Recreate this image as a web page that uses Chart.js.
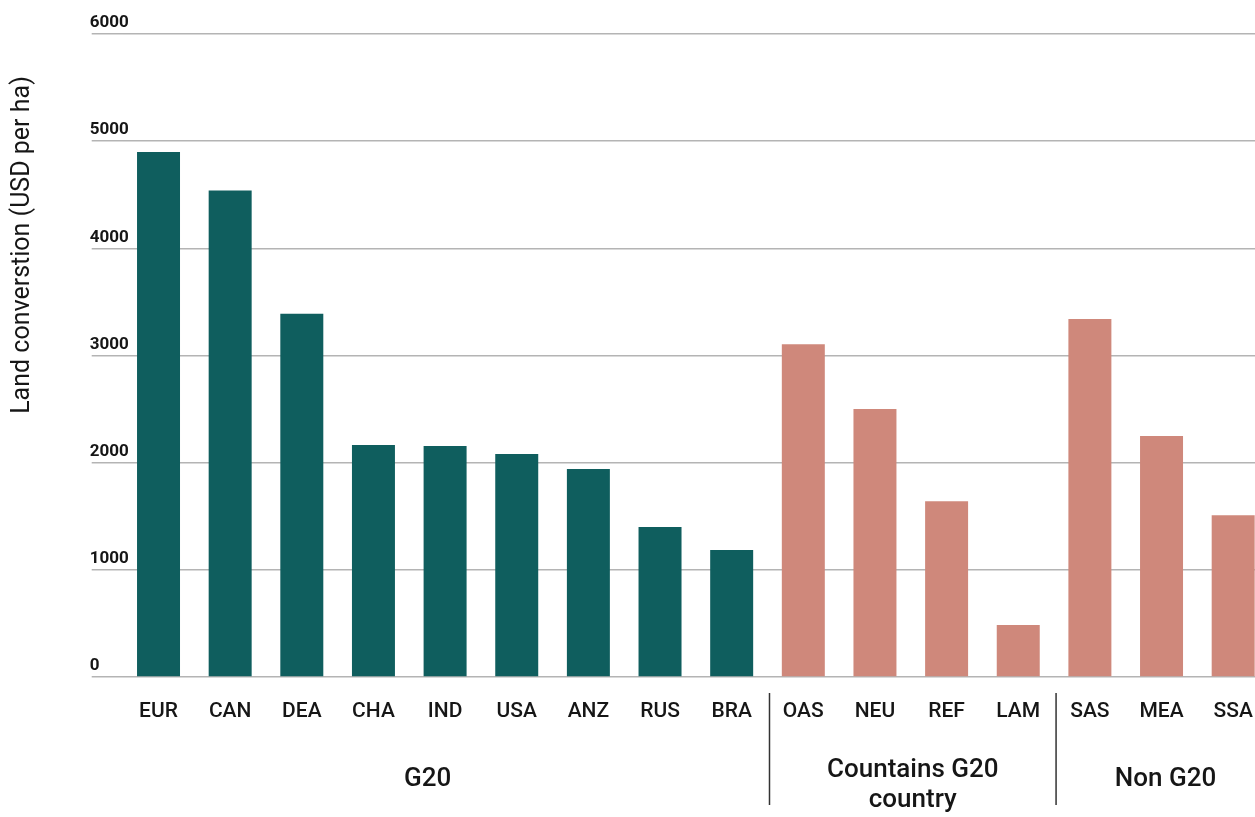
<!DOCTYPE html>
<html>
<head>
<meta charset="utf-8">
<script src="https://cdn.jsdelivr.net/npm/chart.js@4/dist/chart.umd.min.js"></script>
<style>
  html, body { margin: 0; padding: 0; background: #ffffff; overflow: hidden; }
  #wrap { width: 1255px; height: 817px; overflow: hidden; position: relative; }
  canvas { display: block; }
</style>
</head>
<body>
<div id="wrap"><canvas id="chart" width="1270" height="817"></canvas></div>
<script>
// Regions along the x axis
const regions = ['EUR', 'CAN', 'DEA', 'CHA', 'IND', 'USA', 'ANZ', 'RUS', 'BRA',
                 'OAS', 'NEU', 'REF', 'LAM', 'SAS', 'MEA', 'SSA'];

// Land conversion cost, USD per ha
const landConversion = [4900, 4540, 3390, 2165, 2155, 2080, 1940, 1400, 1185,
                        3105, 2500, 1640, 485, 3340, 2250, 1510];

// Region groups (index ranges into regions)
const groupNames = [['G20'], ['Countains G20', 'country'], ['Non G20']];
const groupStart = [0, 9, 13];
const groupEnd = [8, 12, 15];

// Y axis ticks
const yTicks = [0, 1000, 2000, 3000, 4000, 5000, 6000];

const yTitle = 'Land converstion (USD per ha)';

const TEAL = '#0f5e5e';
const SALMON = '#cf887b';
const INK = '#161616';
const GRID = '#b4b4b4';

const barColors = regions.map((_, i) => (i <= groupEnd[0] ? TEAL : SALMON));

const decorations = {
  id: 'decorations',
  afterDraw(chart) {
    const ctx = chart.ctx;
    const x = chart.scales.x;

    // rotated y-axis title
    ctx.save();
    ctx.translate(23, 245);
    ctx.rotate(-Math.PI / 2);
    ctx.font = '400 25px Roboto';
    ctx.fillStyle = INK;
    ctx.textAlign = 'center';
    ctx.textBaseline = 'middle';
    ctx.fillText(yTitle, 0, 0);
    ctx.restore();

    // boundaries between groups
    const bounds = [];
    bounds.push(chart.chartArea.left - 31);
    for (let g = 1; g < groupStart.length; g++) {
      const a = x.getPixelForTick(groupEnd[g - 1]);
      const b = x.getPixelForTick(groupStart[g]);
      bounds.push((a + b) / 2);
    }
    bounds.push(chart.chartArea.right + 12);

    ctx.save();
    ctx.strokeStyle = '#333333';
    ctx.lineWidth = 1.5;
    for (let i = 1; i < bounds.length - 1; i++) {
      ctx.beginPath();
      ctx.moveTo(bounds[i] + 2, 693);
      ctx.lineTo(bounds[i] + 2, 805);
      ctx.stroke();
    }

    ctx.font = '500 26px Roboto';
    ctx.fillStyle = INK;
    ctx.textAlign = 'center';
    ctx.textBaseline = 'middle';
    groupNames.forEach((lines, g) => {
      const cx = (bounds[g] + bounds[g + 1]) / 2 - 2;
      if (lines.length === 1) {
        ctx.fillText(lines[0], cx, 779);
      } else {
        ctx.fillText(lines[0], cx + 4, 770);
        ctx.fillText(lines[1], cx + 4, 800);
      }
    });
    ctx.restore();
  }
};

new Chart(document.getElementById('chart'), {
  type: 'bar',
  data: {
    labels: regions,
    datasets: [{
      data: landConversion,
      backgroundColor: barColors,
      borderWidth: 0,
      barPercentage: 0.6,
      categoryPercentage: 1.0
    }]
  },
  options: {
    responsive: false,
    animation: false,
    devicePixelRatio: 1,
    layout: { padding: { left: 90, top: 34, right: 1, bottom: 0 } },
    plugins: {
      legend: { display: false },
      tooltip: { enabled: false }
    },
    scales: {
      x: {
        grid: { display: false, drawTicks: false },
        border: { display: false },
        ticks: {
          color: INK,
          font: { family: 'Roboto', size: 21, weight: '500' },
          padding: 22,
          maxRotation: 0,
          autoSkip: false
        },
        afterFit(scale) {
          scale.height = 140;
          scale.paddingLeft = 0;
          scale.paddingRight = 0;
        }
      },
      y: {
        min: 0,
        max: 6000,
        afterBuildTicks(scale) {
          scale.ticks = yTicks.map(v => ({ value: v }));
        },
        grid: {
          color: GRID,
          lineWidth: 1.5,
          drawTicks: true,
          tickLength: 31,
          tickColor: GRID
        },
        border: { display: false },
        ticks: {
          color: INK,
          mirror: true,
          crossAlign: 'near',
          padding: -33,
          labelOffset: -11,
          callback: v => String(v),
          font: { family: 'Roboto', size: 17, weight: 'bold' }
        },
        afterFit(scale) {
          scale.width = 32.7;
          scale.paddingTop = 0;
          scale.paddingBottom = 0;
        }
      }
    }
  },
  plugins: [decorations]
});
</script>
</body>
</html>
